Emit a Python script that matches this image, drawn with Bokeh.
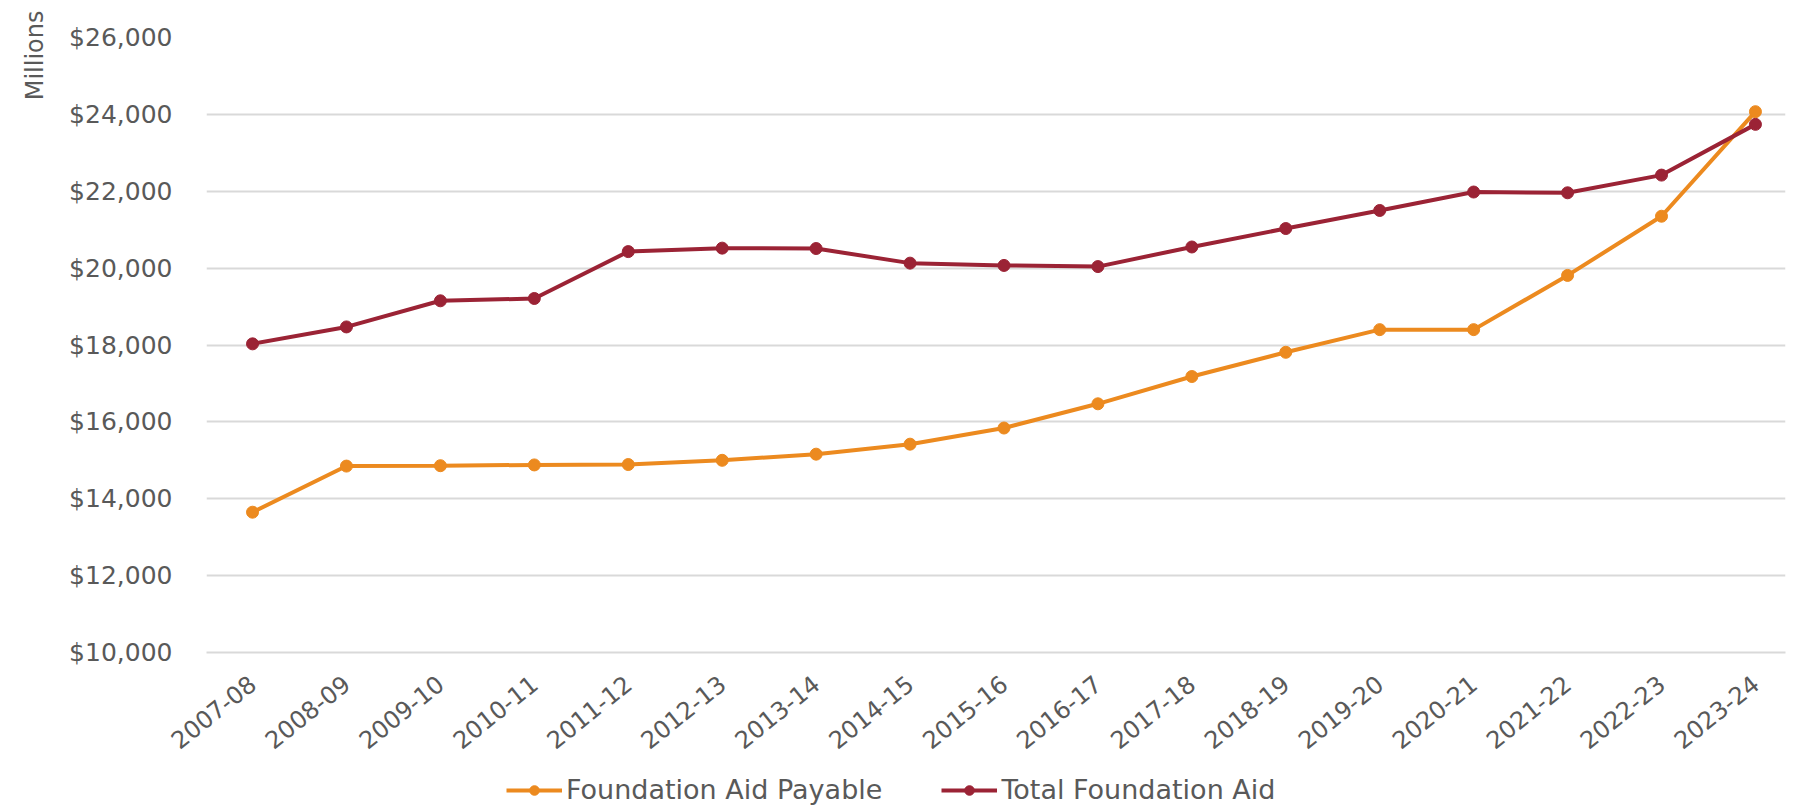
from bokeh.plotting import figure
from bokeh.layouts import column
from bokeh.models import (Range1d, FixedTicker, NumeralTickFormatter, Legend,
                          LegendItem, Title, ColumnDataSource)
from bokeh.embed import file_html
from bokeh.resources import INLINE

years = ["2007-08", "2008-09", "2009-10", "2010-11", "2011-12", "2012-13",
         "2013-14", "2014-15", "2015-16", "2016-17", "2017-18", "2018-19",
         "2019-20", "2020-21", "2021-22", "2022-23", "2023-24"]
foundation_aid_payable = [13650, 14850, 14860, 14880, 14890, 15000, 15160,
                          15420, 15840, 16470, 17180, 17810, 18400, 18400,
                          19810, 21350, 24070]
total_foundation_aid = [18030, 18470, 19150, 19210, 20430, 20520, 20510,
                        20130, 20070, 20040, 20550, 21030, 21500, 21980,
                        21960, 22420, 23740]
y_ticks = [10000, 12000, 14000, 16000, 18000, 20000, 22000, 24000, 26000]
series_names = ["Foundation Aid Payable", "Total Foundation Aid"]

ORANGE = "#EC8A1F"
RED = "#9B2335"
GRAY = "#595959"
GRID = "#D9D9D9"
FONT = "DejaVu Sans"

idx = list(range(len(years)))
src = ColumnDataSource(dict(x=idx, fap=foundation_aid_payable, tfa=total_foundation_aid))

p = figure(title=None, width=1787, height=760,
           x_range=Range1d(-0.49, 16.32), y_range=Range1d(10000, 26000),
           output_backend="svg", toolbar_location=None,
           min_border_left=202, min_border_top=37, min_border_right=2,
           min_border_bottom=108)
p.outline_line_color = None
p.background_fill_color = "white"
p.border_fill_color = "white"

# lines
p.line("x", "fap", source=src, line_color=ORANGE, line_width=4)
p.scatter("x", "fap", source=src, size=12, fill_color=ORANGE, line_color=ORANGE)
p.line("x", "tfa", source=src, line_color=RED, line_width=4)
p.scatter("x", "tfa", source=src, size=12, fill_color=RED, line_color=RED)

# x axis
p.xaxis.ticker = FixedTicker(ticks=idx)
p.xaxis.major_label_overrides = {i: y for i, y in zip(idx, years)}
p.xaxis.major_label_orientation = 0.675
p.xaxis.major_label_text_font = FONT
p.xaxis.major_label_text_font_size = "24px"
p.xaxis.major_label_text_color = GRAY
p.xaxis.major_tick_line_color = None
p.xaxis.minor_tick_line_color = None
p.xaxis.axis_line_color = GRID
p.xaxis.axis_line_width = 2
p.xaxis.major_label_standoff = 22
p.xgrid.grid_line_color = None

# y axis
p.yaxis.ticker = FixedTicker(ticks=y_ticks)
p.yaxis.formatter = NumeralTickFormatter(format="$0,0")
p.yaxis.major_label_text_font = FONT
p.yaxis.major_label_text_font_size = "25px"
p.yaxis.major_label_text_color = GRAY
p.yaxis.major_tick_line_color = None
p.yaxis.minor_tick_line_color = None
p.yaxis.axis_line_color = None
p.yaxis.major_label_standoff = 28
p.ygrid.ticker = FixedTicker(ticks=y_ticks)
p.ygrid.grid_line_color = GRID
p.ygrid.grid_line_width = 2

p.add_layout(Title(text="Millions", align="right", text_font=FONT,
                   text_font_size="24px", text_font_style="normal",
                   text_color=GRAY, standoff=36, offset=-27), "left")

# legend strip below the chart (series drawn out of view; only the legend shows)
lg = figure(title=None, width=1787, height=45, x_range=Range1d(0, 1), y_range=Range1d(0, 1),
            output_backend="svg", toolbar_location=None,
            min_border_left=0, min_border_right=0, min_border_top=0, min_border_bottom=0)
lg.axis.visible = False
lg.grid.visible = False
lg.outline_line_color = None
lg.border_fill_color = "white"
k1 = lg.line("x", "fap", source=src, line_color=ORANGE, line_width=4)
m1 = lg.scatter("x", "fap", source=src, size=12, fill_color=ORANGE, line_color=ORANGE)
k2 = lg.line("x", "tfa", source=src, line_color=RED, line_width=4)
m2 = lg.scatter("x", "tfa", source=src, size=12, fill_color=RED, line_color=RED)

legend = Legend(items=[LegendItem(label=series_names[0], renderers=[k1, m1]),
                       LegendItem(label=series_names[1], renderers=[k2, m2])],
                orientation="horizontal", location=(300, 0),
                label_text_font=FONT, label_text_font_size="27px",
                label_text_color=GRAY, glyph_width=56, glyph_height=24,
                label_standoff=4, spacing=59, padding=0, margin=0,
                border_line_color=None, background_fill_alpha=0)
lg.add_layout(legend, "center")

layout = column(p, lg, spacing=0)
open("out.html", "w").write(file_html(layout, INLINE))
